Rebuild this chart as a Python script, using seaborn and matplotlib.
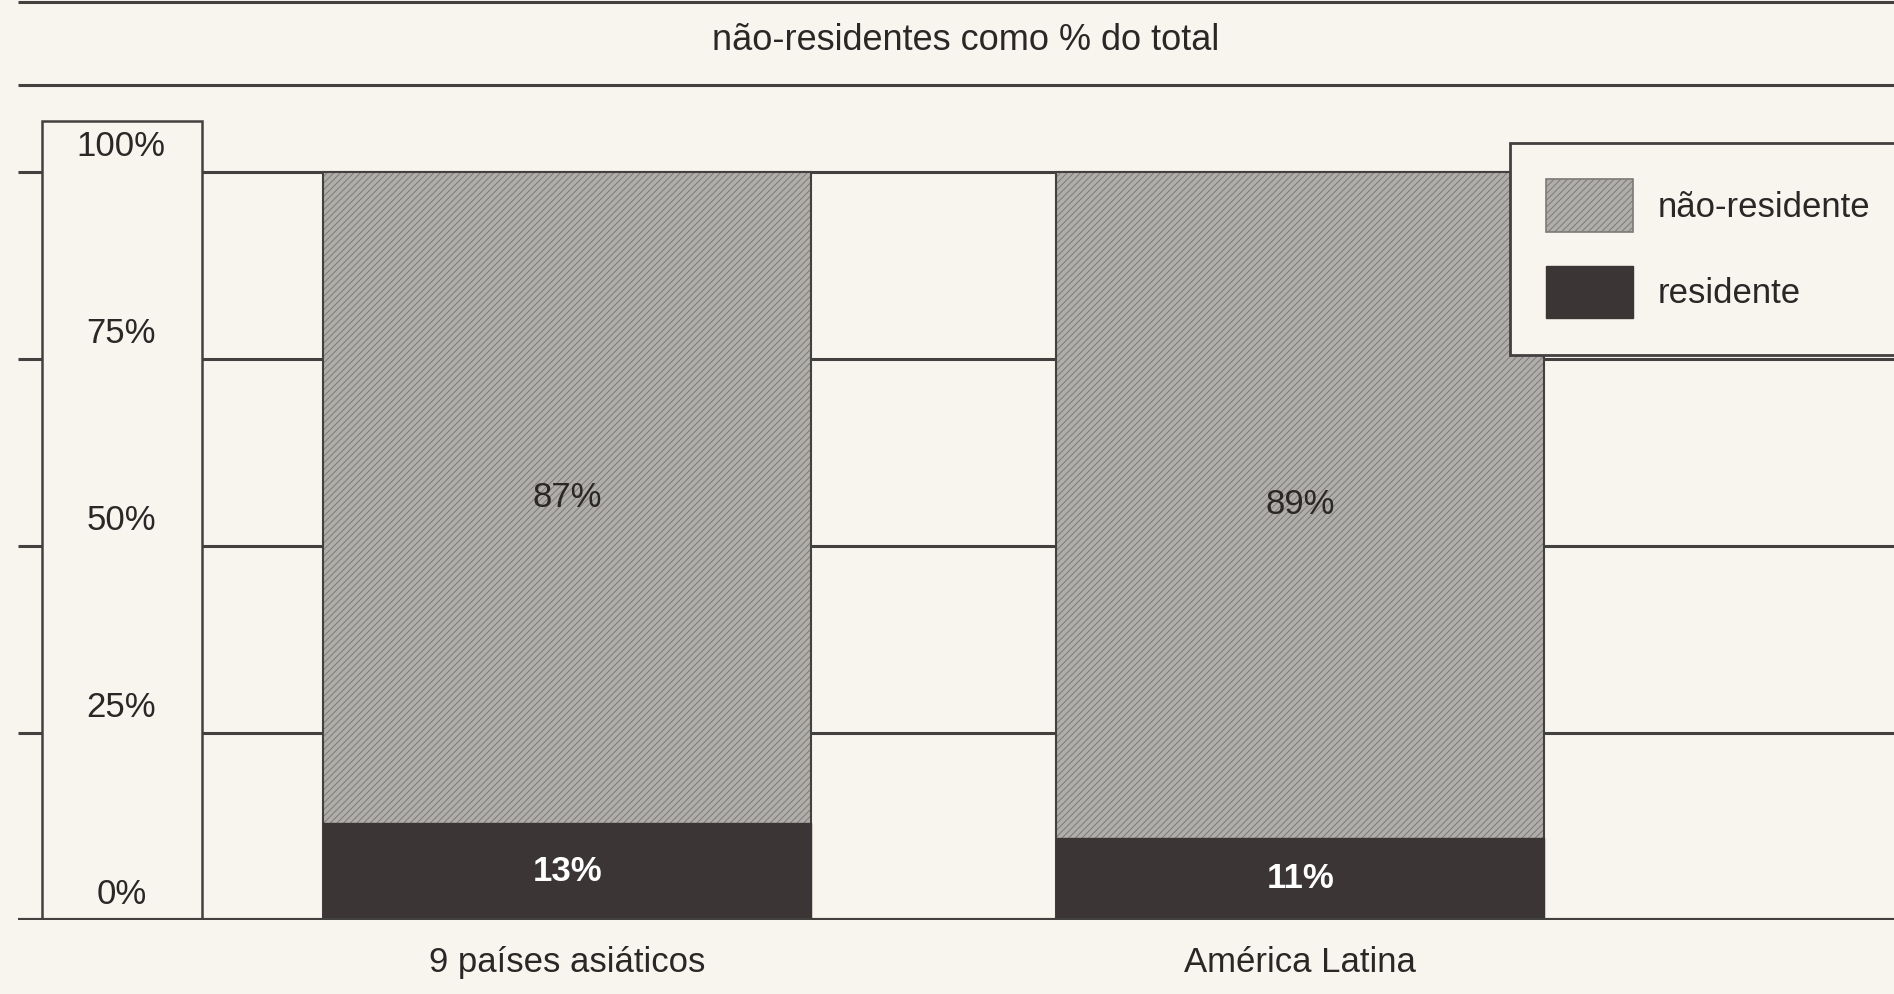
import pandas as pd
import matplotlib.pyplot as plt
import seaborn as sns
from matplotlib.patches import Patch, Rectangle

# dados
categorias = ["9 países asiáticos", "América Latina"]
residente = [13, 11]
nao_residente = [87, 89]
ticks = [0, 25, 50, 75, 100]
tick_labels = ["0%", "25%", "50%", "75%", "100%"]
titulo = "não-residentes como % do total"
legenda = ["não-residente", "residente"]

BG = "#f8f5ee"
LIGHT = "#b0aeaa"
HATCH = "#7c7977"
DARK = "#3b3536"
INK = "#2b2727"
LINE = "#434040"

sns.set_style("white")
plt.rcParams["font.family"] = ["Liberation Sans", "DejaVu Sans"]
plt.rcParams["hatch.linewidth"] = 0.7

df = pd.DataFrame({"categoria": categorias,
                   "residente": residente,
                   "nao_residente": nao_residente})
df["total"] = df["residente"] + df["nao_residente"]

fig = plt.figure(figsize=(18.94, 9.94), dpi=100, facecolor=BG)
ax = fig.add_axes([0, 74 / 994, 1, 920 / 994])
ax.set_facecolor(BG)

X0, X1 = -0.7735, 1.810
LEFT = -0.749
FS = 25

# linhas de grade e base
ax.hlines(ticks[1:], LEFT, X1, color=LINE, lw=2.2, zorder=0)
ax.hlines(0, LEFT, X1, color=LINE, lw=3, zorder=5)
ax.hlines([111.6, 122.7], LEFT, X1, color=LINE, lw=2.2, zorder=0)

# barras empilhadas
sns.barplot(data=df, x="categoria", y="total", color=LIGHT, saturation=1,
            width=0.665, hatch="/////", edgecolor=HATCH, linewidth=0,
            errorbar=None, ax=ax, zorder=2)
sns.barplot(data=df, x="categoria", y="total", color=LINE, saturation=1,
            width=0.665, fill=False, linewidth=1.5, errorbar=None,
            ax=ax, zorder=3)
sns.barplot(data=df, x="categoria", y="residente", color=DARK, saturation=1,
            width=0.665, edgecolor=DARK, linewidth=1, errorbar=None,
            ax=ax, zorder=4)

for i, (r, n) in enumerate(zip(residente, nao_residente)):
    ax.text(i, r + n / 2, f"{n}%", ha="center", va="center",
            fontsize=FS, color=INK, zorder=6)
    ax.text(i, r / 2, f"{r}%", ha="center", va="center",
            fontsize=FS, color="white", fontweight="bold", zorder=6)

# caixa da escala
ax.add_patch(Rectangle((-0.716, 0), 0.218, 106.8, facecolor=BG,
                       edgecolor=LINE, lw=1.8, zorder=3))
for t, lab in zip(ticks, tick_labels):
    ax.text(-0.608, t + 3.4, lab, ha="center", va="center",
            fontsize=FS, color=INK, zorder=6)

ax.text(0.543, 117.6, titulo, ha="center", va="center", fontsize=26, color=INK)

ax.set_xlim(X0, X1)
ax.set_ylim(0, 123)
ax.set_xticks([0, 1])
ax.set_xticklabels(categorias, fontsize=FS, color=INK)
ax.tick_params(axis="x", length=0, pad=19)
ax.set_yticks([])
ax.set_xlabel("")
ax.set_ylabel("")
for s in ax.spines.values():
    s.set_visible(False)

handles = [Patch(facecolor=LIGHT, edgecolor=HATCH, hatch="/////", lw=1.2),
           Patch(facecolor=DARK, edgecolor=DARK)]
leg = fig.legend(handles, legenda, loc="upper left",
                 bbox_to_anchor=(1510 / 1894, 1 - 143 / 994),
                 frameon=True, fancybox=False, edgecolor=LINE, facecolor=BG,
                 framealpha=1, fontsize=FS, labelcolor=INK,
                 handlelength=2.5, handleheight=1.93, handletextpad=0.7,
                 labelspacing=1.0, borderpad=1.05, borderaxespad=0)
leg.get_frame().set_linewidth(2)

fig.savefig("out.png", dpi=100, facecolor=BG)
